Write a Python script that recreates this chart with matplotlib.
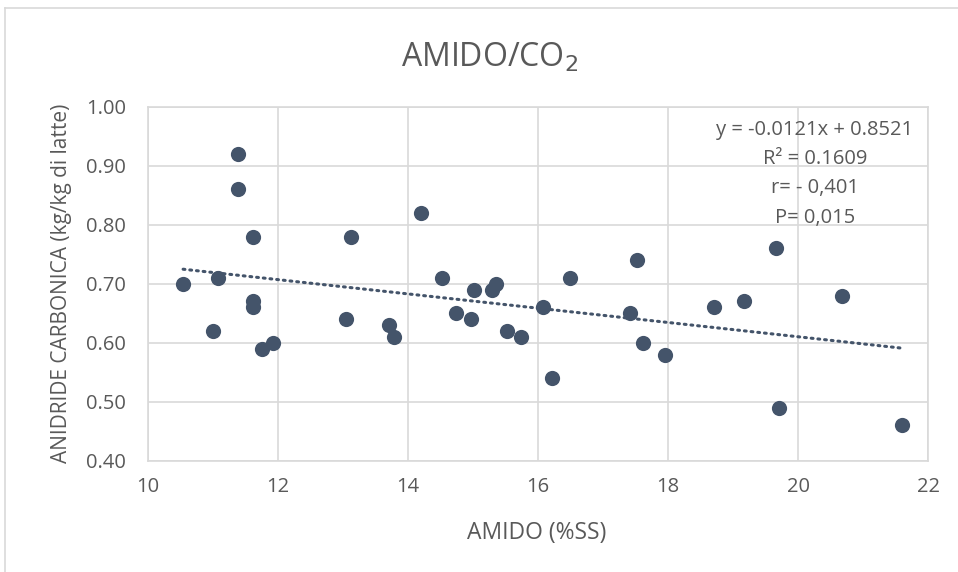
import matplotlib.pyplot as plt
import numpy as np
from matplotlib.ticker import FormatStrFormatter

# Starch (% dry matter) vs carbon dioxide (kg/kg milk)
amido = [10.54, 11.00, 11.07, 11.38, 11.38, 11.61, 11.61, 11.61, 11.75, 11.92,
         13.04, 13.12, 13.70, 13.78, 14.20, 14.52, 14.74, 14.97, 15.02, 15.29,
         15.35, 15.53, 15.74, 16.08, 16.22, 16.49, 17.42, 17.53, 17.61, 17.95,
         18.70, 19.17, 19.66, 19.71, 20.68, 21.60]
co2 = [0.70, 0.62, 0.71, 0.92, 0.86, 0.78, 0.67, 0.66, 0.59, 0.60,
       0.64, 0.78, 0.63, 0.61, 0.82, 0.71, 0.65, 0.64, 0.69, 0.69,
       0.70, 0.62, 0.61, 0.66, 0.54, 0.71, 0.65, 0.74, 0.60, 0.58,
       0.66, 0.67, 0.76, 0.49, 0.68, 0.46]

slope = -0.0121
intercept = 0.8521
stats_lines = ["y = -0.0121x + 0.8521", "R² = 0.1609", "r= - 0,401", "P= 0,015"]

grey_txt = '#595959'
dot_col = '#44546A'
grid_col = '#D9D9D9'
fam = ['Open Sans', 'DejaVu Sans']
plt.rcParams['font.family'] = fam

fig = plt.figure(figsize=(9.58, 5.72), dpi=100)
ax = fig.add_axes([148/958, 1 - 460.7/572, 780/958, 354/572])

# outer chart frame (left and top edges)
fig.add_artist(plt.Line2D([5/958, 5/958], [0, 1 - 8/572], color=grid_col, lw=1.2, transform=fig.transFigure))
fig.add_artist(plt.Line2D([5/958, 1], [1 - 8/572, 1 - 8/572], color=grid_col, lw=1.2, transform=fig.transFigure))

ax.scatter(amido, co2, s=120, color=dot_col, zorder=3, linewidths=0)

xs = np.array([min(amido), max(amido)])
ax.plot(xs, slope * xs + intercept, color=dot_col, lw=2.2, linestyle=(0, (0.6, 1.6)),
        dash_capstyle='round', zorder=2)

ax.set_xlim(10, 22)
ax.set_ylim(0.40, 1.00)
ax.set_xticks(np.arange(10, 23, 2))
ax.set_yticks(np.arange(0.40, 1.01, 0.10))
ax.yaxis.set_major_formatter(FormatStrFormatter('%.2f'))
ax.grid(True, color=grid_col, lw=1.2, zorder=0)
ax.set_axisbelow(True)
for sp in ax.spines.values():
    sp.set_color(grid_col)
    sp.set_linewidth(1.2)
ax.tick_params(length=0, colors=grey_txt, labelsize=14.5)
ax.tick_params(axis='x', pad=12)
ax.tick_params(axis='y', pad=16)

fig.text(490/958, 1 - 58/572, 'AMIDO/CO$_2$', ha='center', va='center', fontsize=23,
         color=grey_txt)
fig.text(537/958, 1 - 533/572, 'AMIDO (%SS)', ha='center', va='center', fontsize=16.5,
         color=grey_txt)
fig.text(62/958, 1 - 283/572, 'ANIDRIDE CARBONICA (kg/kg di latte)', ha='center', va='center',
         rotation=90, fontsize=15, color=grey_txt)

for i, line in enumerate(stats_lines):
    fig.text(815/958, 1 - (130 + 29.2 * i)/572, line, ha='center', va='center', fontsize=14.5,
             color=grey_txt)

fig.savefig('out.png', dpi=100, facecolor='white')
